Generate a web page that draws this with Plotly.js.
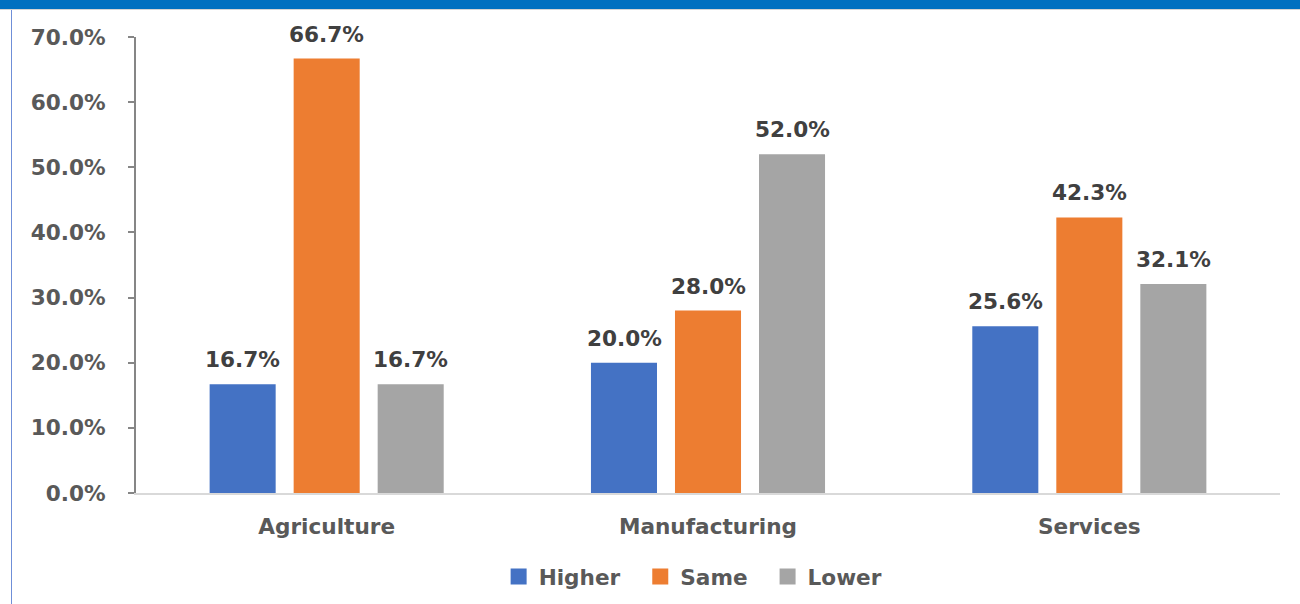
<!DOCTYPE html>
<html>
<head>
<meta charset="utf-8">
<script src="https://cdn.plot.ly/plotly-3.0.1.min.js"></script>
<style>
  html, body { margin: 0; padding: 0; background: #ffffff; }
  #wrap { position: relative; width: 1300px; height: 604px; overflow: hidden; }
  #band { position: absolute; left: 0; top: 0; width: 1300px; height: 9px; background: #0070C0; border-bottom: 1px solid #d4d4d4; z-index: 2; }
  #edge { position: absolute; left: 11px; top: 10px; width: 1px; height: 594px; background: #6f8fd8; z-index: 2; }
  #chart { position: absolute; left: 0; top: 0; width: 1300px; height: 604px; }
</style>
</head>
<body>
<div id="wrap">
  <div id="chart"></div>
  <div id="band"></div>
  <div id="edge"></div>
</div>
<script>
const categories = ["Agriculture", "Manufacturing", "Services"];
const seriesNames = ["Higher", "Same", "Lower"];
const higher = [0.167, 0.200, 0.256];
const same   = [0.667, 0.280, 0.423];
const lower  = [0.167, 0.520, 0.321];
const seriesColors = ["#4472C4", "#ED7D31", "#A5A5A5"];
const yTickVals = [0, 0.1, 0.2, 0.3, 0.4, 0.5, 0.6, 0.7];

const allSeries = [higher, same, lower];
const font = "DejaVu Sans, Verdana, sans-serif";
const fsize = 21.6;

const traces = [];
allSeries.forEach((vals, i) => {
  traces.push({
    type: "bar",
    name: seriesNames[i],
    x: categories,
    y: vals,
    marker: { color: seriesColors[i] },
    showlegend: false,
    hoverinfo: "skip"
  });
});
// legend entries
allSeries.forEach((vals, i) => {
  const pad = i < allSeries.length - 1 ? "\u00a0\u00a0" : "";
  traces.push({
    type: "scatter",
    mode: "markers",
    name: seriesNames[i] + pad,
    x: [categories[0]],
    y: [null],
    marker: { symbol: "square", size: 16, color: seriesColors[i] },
    showlegend: true,
    hoverinfo: "skip"
  });
});

const annotations = [];
allSeries.forEach((vals, i) => {
  vals.forEach((v, k) => {
    annotations.push({
      x: categories[k],
      y: v,
      xref: "x",
      yref: "y",
      text: (v * 100).toFixed(1) + "%",
      showarrow: false,
      xanchor: "center",
      yanchor: "bottom",
      xshift: (i - 1) * 84,
      yshift: 10,
      font: { family: font, size: fsize, color: "#404040", weight: "bold" }
    });
  });
});

const layout = {
  width: 1300,
  height: 604,
  margin: { l: 136, r: 20, t: 37, b: 111, autoexpand: false },
  paper_bgcolor: "#ffffff",
  plot_bgcolor: "#ffffff",
  barmode: "group",
  bargap: 0.339,
  bargroupgap: 0.214,
  font: { family: font, color: "#595959" },
  xaxis: {
    type: "category",
    showline: true,
    linecolor: "#d9d9d9",
    linewidth: 2,
    showgrid: false,
    ticks: "",
    ticklabelstandoff: 13,
    automargin: false,
    tickfont: { family: font, size: fsize, color: "#595959", weight: "bold" },
    fixedrange: true
  },
  yaxis: {
    range: [0, 0.7],
    tickvals: yTickVals,
    tickformat: ".1%",
    showline: true,
    linecolor: "#868686",
    linewidth: 2,
    ticks: "outside",
    ticklen: 6,
    tickwidth: 2,
    tickcolor: "#868686",
    showgrid: false,
    zeroline: false,
    ticklabelstandoff: 18,
    automargin: false,
    tickfont: { family: font, size: fsize, color: "#595959", weight: "bold" },
    fixedrange: true
  },
  showlegend: true,
  legend: {
    orientation: "h",
    x: 0.487,
    xanchor: "center",
    y: -0.184,
    yanchor: "middle",
    font: { family: font, size: fsize, color: "#595959", weight: "bold" },
    itemclick: false,
    itemdoubleclick: false
  },
  annotations: annotations
};

Plotly.newPlot("chart", traces, layout, { displayModeBar: false, staticPlot: true });
</script>
</body>
</html>
